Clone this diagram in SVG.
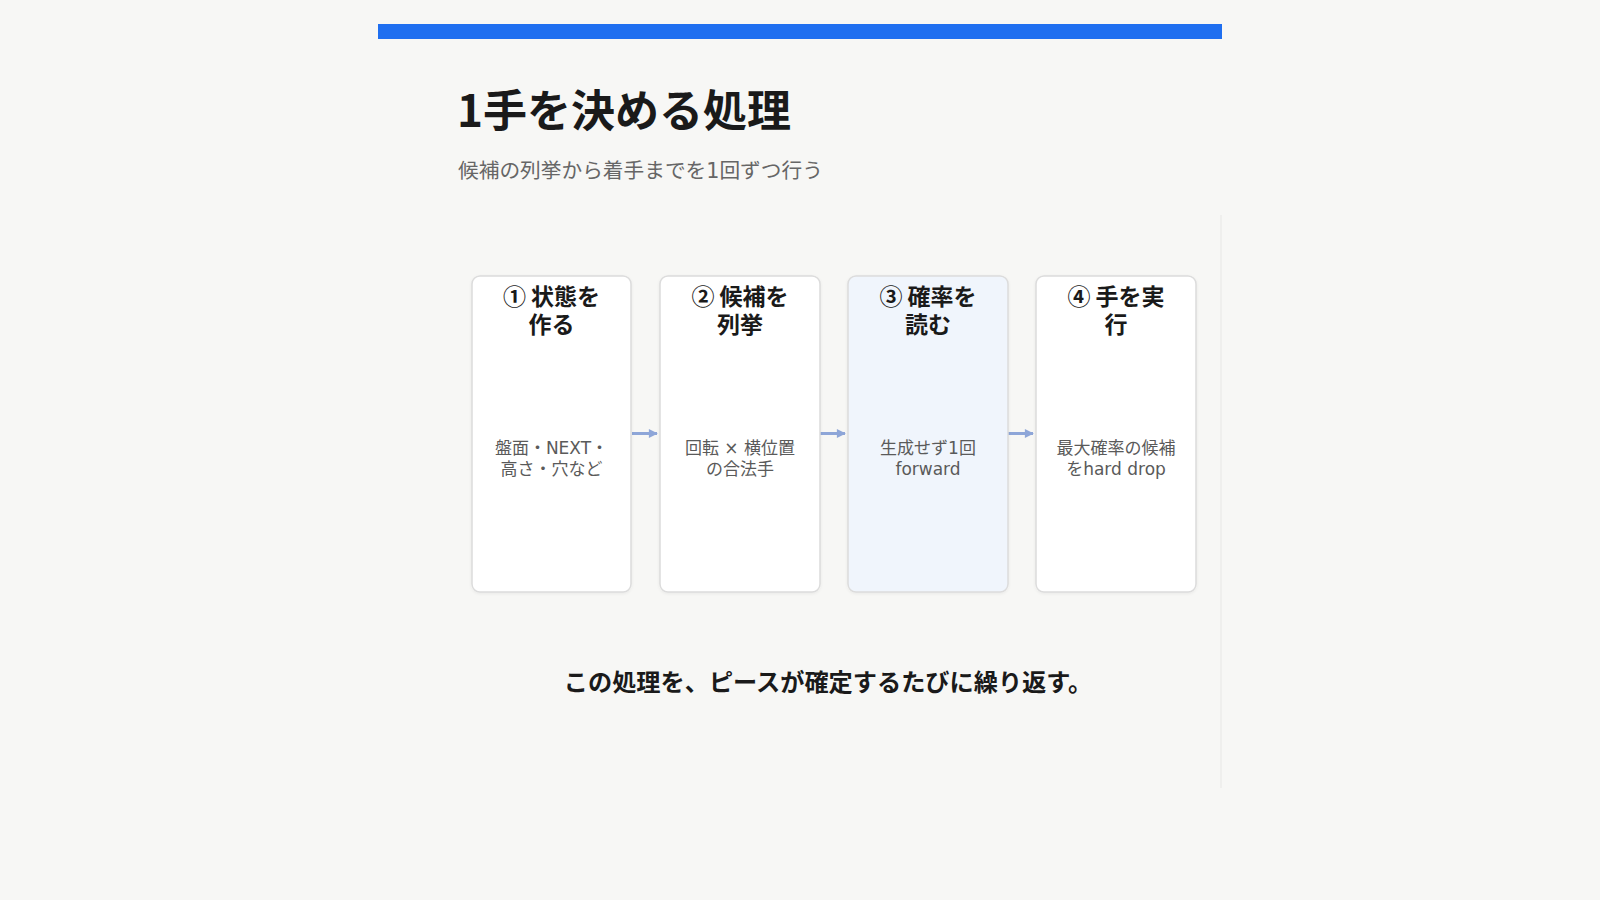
<svg xmlns="http://www.w3.org/2000/svg" width="1600" height="900" viewBox="0 0 1600 900">
  <defs>
    <style>
      .jp { font-family: "Noto Sans CJK JP", "Noto Sans", sans-serif; }
      .dj { font-family: "DejaVu Sans", "Noto Sans CJK JP", sans-serif; }
      .title { font-size: 44px; font-weight: 700; fill: #1a1a1a; }
      .sub { font-size: 20.7px; fill: #666666; }
      .box { fill: #ffffff; stroke: #dcdcdc; stroke-width: 1.5; }
      .box.hl { fill: #f0f5fc; }
      .bt { font-size: 23px; font-weight: 700; fill: #1a1a1a; text-anchor: middle; }
      .bd { font-size: 17px; fill: #5a5a5a; text-anchor: middle; }
      .foot { font-size: 24.2px; font-weight: 700; fill: #1a1a1a; text-anchor: middle; }
      .conn { stroke: #8ea6d8; stroke-width: 3; fill: none; }
    </style>
    <marker id="ah" viewBox="0 0 10 10" refX="9" refY="5" markerWidth="10" markerHeight="9" markerUnits="userSpaceOnUse" orient="auto">
      <path d="M0,0 L10,5 L0,10 Z" fill="#8ea6d8"/>
    </marker>
    <filter id="sh" x="-10%" y="-10%" width="120%" height="120%">
      <feDropShadow dx="0" dy="1" stdDeviation="1.5" flood-color="#000000" flood-opacity="0.06"/>
    </filter>
  </defs>
  <rect x="0" y="0" width="1600" height="900" fill="#f7f7f5"/>
  <rect x="378" y="24" width="844" height="15" fill="#1f6ff0"/>
  <line x1="1221" y1="215" x2="1221" y2="788" stroke="#ececea" stroke-width="1.5"/>

  <text class="jp title" x="457" y="127">1手を決める処理</text>
  <text class="dj sub" x="458" y="178">候補の列挙から着手までを1回ずつ行う</text>

  <g id="connectors">
    <line class="conn" x1="632" y1="433.5" x2="657" y2="433.5" marker-end="url(#ah)"/>
    <line class="conn" x1="820" y1="433.5" x2="845" y2="433.5" marker-end="url(#ah)"/>
    <line class="conn" x1="1008" y1="433.5" x2="1033" y2="433.5" marker-end="url(#ah)"/>
  </g>

  <g id="node1">
    <rect class="box" x="472" y="276" width="159" height="316" rx="8" filter="url(#sh)"/>
    <text class="jp bt" x="551.5" y="305">① 状態を</text>
    <text class="jp bt" x="551.5" y="333">作る</text>
    <text class="dj bd" x="551.5" y="454">盤面・NEXT・</text>
    <text class="dj bd" x="551.5" y="475">高さ・穴など</text>
  </g>
  <g id="node2">
    <rect class="box" x="660" y="276" width="160" height="316" rx="8" filter="url(#sh)"/>
    <text class="jp bt" x="740" y="305">② 候補を</text>
    <text class="jp bt" x="740" y="333">列挙</text>
    <text class="dj bd" x="740" y="454">回転 × 横位置</text>
    <text class="dj bd" x="740" y="475">の合法手</text>
  </g>
  <g id="node3">
    <rect class="box hl" x="848" y="276" width="160" height="316" rx="8" filter="url(#sh)"/>
    <text class="jp bt" x="928" y="305">③ 確率を</text>
    <text class="jp bt" x="928" y="333">読む</text>
    <text class="dj bd" x="928" y="454">生成せず1回</text>
    <text class="dj bd" x="928" y="475">forward</text>
  </g>
  <g id="node4">
    <rect class="box" x="1036" y="276" width="160" height="316" rx="8" filter="url(#sh)"/>
    <text class="jp bt" x="1116" y="305">④ 手を実</text>
    <text class="jp bt" x="1116" y="333">行</text>
    <text class="dj bd" x="1116" y="454">最大確率の候補</text>
    <text class="dj bd" x="1116" y="475">をhard drop</text>
  </g>

  <text class="jp foot" x="828" y="691">この処理を、ピースが確定するたびに繰り返す。</text>
</svg>
